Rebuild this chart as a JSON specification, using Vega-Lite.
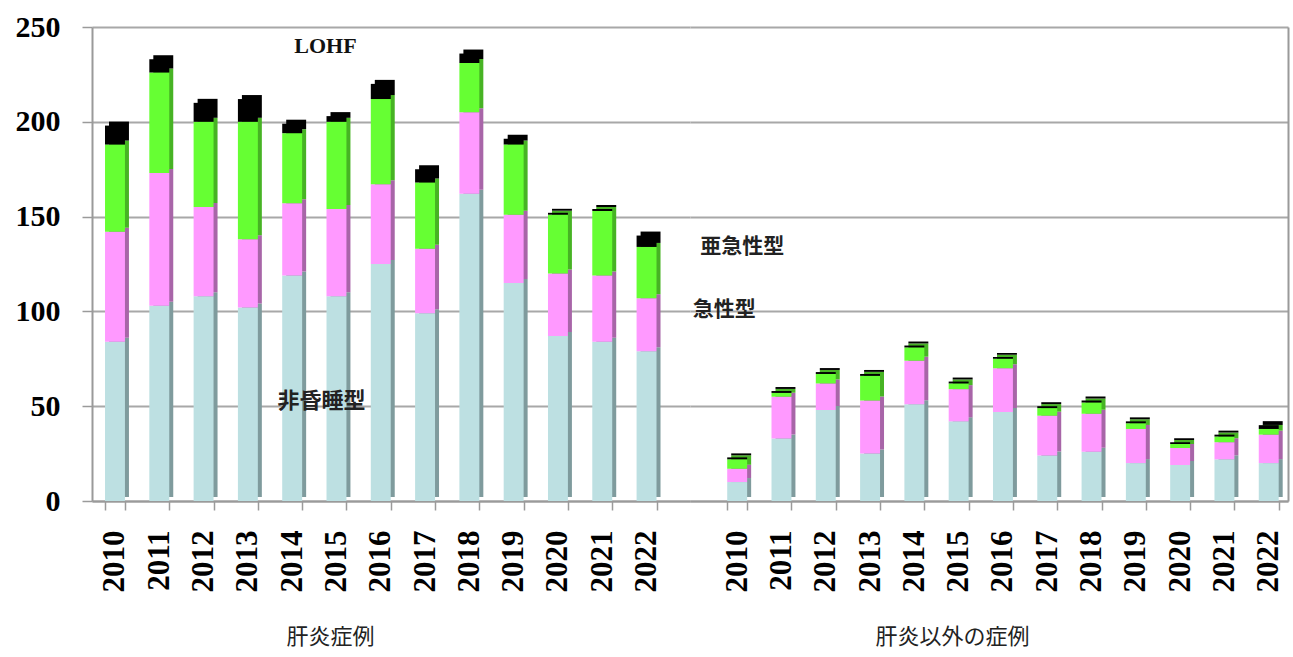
{
  "$schema": "https://vega.github.io/schema/vega-lite/v6.json",
  "background": "white",
  "padding": {"left": 15, "top": 12, "right": 4, "bottom": 22},
  "autosize": {"type": "pad"},
  "spacing": 0,
  "bounds": "flush",
  "config": {"view": {"stroke": null}},
  "datasets": {
    "bars": [
      {"g":"A","year":"2010","t":"非昏睡型","o":1,"v":84},{"g":"A","year":"2010","t":"急性型","o":2,"v":58},{"g":"A","year":"2010","t":"亜急性型","o":3,"v":46},{"g":"A","year":"2010","t":"LOHF","o":4,"v":10},
      {"g":"A","year":"2011","t":"非昏睡型","o":1,"v":103},{"g":"A","year":"2011","t":"急性型","o":2,"v":70},{"g":"A","year":"2011","t":"亜急性型","o":3,"v":53},{"g":"A","year":"2011","t":"LOHF","o":4,"v":7},
      {"g":"A","year":"2012","t":"非昏睡型","o":1,"v":108},{"g":"A","year":"2012","t":"急性型","o":2,"v":47},{"g":"A","year":"2012","t":"亜急性型","o":3,"v":45},{"g":"A","year":"2012","t":"LOHF","o":4,"v":10},
      {"g":"A","year":"2013","t":"非昏睡型","o":1,"v":102},{"g":"A","year":"2013","t":"急性型","o":2,"v":36},{"g":"A","year":"2013","t":"亜急性型","o":3,"v":62},{"g":"A","year":"2013","t":"LOHF","o":4,"v":12},
      {"g":"A","year":"2014","t":"非昏睡型","o":1,"v":119},{"g":"A","year":"2014","t":"急性型","o":2,"v":38},{"g":"A","year":"2014","t":"亜急性型","o":3,"v":37},{"g":"A","year":"2014","t":"LOHF","o":4,"v":5},
      {"g":"A","year":"2015","t":"非昏睡型","o":1,"v":108},{"g":"A","year":"2015","t":"急性型","o":2,"v":46},{"g":"A","year":"2015","t":"亜急性型","o":3,"v":46},{"g":"A","year":"2015","t":"LOHF","o":4,"v":3},
      {"g":"A","year":"2016","t":"非昏睡型","o":1,"v":125},{"g":"A","year":"2016","t":"急性型","o":2,"v":42},{"g":"A","year":"2016","t":"亜急性型","o":3,"v":45},{"g":"A","year":"2016","t":"LOHF","o":4,"v":8},
      {"g":"A","year":"2017","t":"非昏睡型","o":1,"v":99},{"g":"A","year":"2017","t":"急性型","o":2,"v":34},{"g":"A","year":"2017","t":"亜急性型","o":3,"v":35},{"g":"A","year":"2017","t":"LOHF","o":4,"v":7},
      {"g":"A","year":"2018","t":"非昏睡型","o":1,"v":162},{"g":"A","year":"2018","t":"急性型","o":2,"v":43},{"g":"A","year":"2018","t":"亜急性型","o":3,"v":26},{"g":"A","year":"2018","t":"LOHF","o":4,"v":5},
      {"g":"A","year":"2019","t":"非昏睡型","o":1,"v":115},{"g":"A","year":"2019","t":"急性型","o":2,"v":36},{"g":"A","year":"2019","t":"亜急性型","o":3,"v":37},{"g":"A","year":"2019","t":"LOHF","o":4,"v":3},
      {"g":"A","year":"2020","t":"非昏睡型","o":1,"v":87},{"g":"A","year":"2020","t":"急性型","o":2,"v":33},{"g":"A","year":"2020","t":"亜急性型","o":3,"v":31},{"g":"A","year":"2020","t":"LOHF","o":4,"v":1},
      {"g":"A","year":"2021","t":"非昏睡型","o":1,"v":84},{"g":"A","year":"2021","t":"急性型","o":2,"v":35},{"g":"A","year":"2021","t":"亜急性型","o":3,"v":34},{"g":"A","year":"2021","t":"LOHF","o":4,"v":1},
      {"g":"A","year":"2022","t":"非昏睡型","o":1,"v":79},{"g":"A","year":"2022","t":"急性型","o":2,"v":28},{"g":"A","year":"2022","t":"亜急性型","o":3,"v":27},{"g":"A","year":"2022","t":"LOHF","o":4,"v":6},
      {"g":"B","year":"2010","t":"非昏睡型","o":1,"v":10},{"g":"B","year":"2010","t":"急性型","o":2,"v":7},{"g":"B","year":"2010","t":"亜急性型","o":3,"v":5},{"g":"B","year":"2010","t":"LOHF","o":4,"v":1},
      {"g":"B","year":"2011","t":"非昏睡型","o":1,"v":33},{"g":"B","year":"2011","t":"急性型","o":2,"v":22},{"g":"B","year":"2011","t":"亜急性型","o":3,"v":2},{"g":"B","year":"2011","t":"LOHF","o":4,"v":1},
      {"g":"B","year":"2012","t":"非昏睡型","o":1,"v":48},{"g":"B","year":"2012","t":"急性型","o":2,"v":14},{"g":"B","year":"2012","t":"亜急性型","o":3,"v":5},{"g":"B","year":"2012","t":"LOHF","o":4,"v":1},
      {"g":"B","year":"2013","t":"非昏睡型","o":1,"v":25},{"g":"B","year":"2013","t":"急性型","o":2,"v":28},{"g":"B","year":"2013","t":"亜急性型","o":3,"v":13},{"g":"B","year":"2013","t":"LOHF","o":4,"v":1},
      {"g":"B","year":"2014","t":"非昏睡型","o":1,"v":51},{"g":"B","year":"2014","t":"急性型","o":2,"v":23},{"g":"B","year":"2014","t":"亜急性型","o":3,"v":7},{"g":"B","year":"2014","t":"LOHF","o":4,"v":1},
      {"g":"B","year":"2015","t":"非昏睡型","o":1,"v":42},{"g":"B","year":"2015","t":"急性型","o":2,"v":17},{"g":"B","year":"2015","t":"亜急性型","o":3,"v":3},{"g":"B","year":"2015","t":"LOHF","o":4,"v":1},
      {"g":"B","year":"2016","t":"非昏睡型","o":1,"v":47},{"g":"B","year":"2016","t":"急性型","o":2,"v":23},{"g":"B","year":"2016","t":"亜急性型","o":3,"v":5},{"g":"B","year":"2016","t":"LOHF","o":4,"v":1},
      {"g":"B","year":"2017","t":"非昏睡型","o":1,"v":24},{"g":"B","year":"2017","t":"急性型","o":2,"v":21},{"g":"B","year":"2017","t":"亜急性型","o":3,"v":4},{"g":"B","year":"2017","t":"LOHF","o":4,"v":1},
      {"g":"B","year":"2018","t":"非昏睡型","o":1,"v":26},{"g":"B","year":"2018","t":"急性型","o":2,"v":20},{"g":"B","year":"2018","t":"亜急性型","o":3,"v":6},{"g":"B","year":"2018","t":"LOHF","o":4,"v":1},
      {"g":"B","year":"2019","t":"非昏睡型","o":1,"v":20},{"g":"B","year":"2019","t":"急性型","o":2,"v":18},{"g":"B","year":"2019","t":"亜急性型","o":3,"v":3},{"g":"B","year":"2019","t":"LOHF","o":4,"v":1},
      {"g":"B","year":"2020","t":"非昏睡型","o":1,"v":19},{"g":"B","year":"2020","t":"急性型","o":2,"v":9},{"g":"B","year":"2020","t":"亜急性型","o":3,"v":2},{"g":"B","year":"2020","t":"LOHF","o":4,"v":1},
      {"g":"B","year":"2021","t":"非昏睡型","o":1,"v":22},{"g":"B","year":"2021","t":"急性型","o":2,"v":9},{"g":"B","year":"2021","t":"亜急性型","o":3,"v":3},{"g":"B","year":"2021","t":"LOHF","o":4,"v":1},
      {"g":"B","year":"2022","t":"非昏睡型","o":1,"v":20},{"g":"B","year":"2022","t":"急性型","o":2,"v":15},{"g":"B","year":"2022","t":"亜急性型","o":3,"v":3},{"g":"B","year":"2022","t":"LOHF","o":4,"v":2}
    ],
    "labels": [
      {"g":"A","year":"2015","v":240,"txt":"LOHF","f":"serif"},
      {"g":"A","year":"2015","v":53,"txt":"非昏睡型","f":"cjk"},
      {"g":"B","year":"2010","v":134,"txt":"亜急性型","f":"cjk"},
      {"g":"B","year":"2010","v":101,"txt":"急性型","f":"cjk"}
    ]
  },
  "hconcat": [
    {
      "width": 598,
      "height": 474,
      "encoding": {
        "x": {
          "field": "year", "type": "ordinal",
          "scale": {"paddingInner": 0.55, "paddingOuter": 0.525, "align": 0.28},
          "axis": {
            "labelAngle": 270, "labelFont": "Liberation Serif", "labelFontWeight": "bold", "labelFontSize": 31,
            "labelColor": "black", "labelPadding": 20, "tickBand": "extent", "tickSize": 9,
            "tickColor": "#9a9a9a", "tickWidth": 1.5, "domainColor": "#9a9a9a", "domainWidth": 2,
            "title": "肝炎症例", "titleFont": "Noto Sans CJK JP", "titleFontSize": 22, "titleFontWeight": "normal",
            "titleColor": "#222222", "titlePadding": 34, "titleX": 238, "titleAlign": "center"
          }
        },
        "y": {
          "field": "v", "type": "quantitative",
          "scale": {"domain": [0, 250]},
          "axis": {
            "orient": "left", "values": [0, 50, 100, 150, 200, 250], "labelFont": "Liberation Serif",
            "labelFontWeight": "bold", "labelFontSize": 30, "labelColor": "black", "labelPadding": 22,
            "tickSize": 10, "tickColor": "#9a9a9a", "tickWidth": 1.5, "domainColor": "#9a9a9a", "domainWidth": 2,
            "gridColor": "#a8a8a8", "gridWidth": 2, "title": null
          }
        }
      },
      "layer": [
        {
          "data": {"name": "bars"},
          "transform": [{"filter": "datum.g == 'A'"}],
          "mark": {"type": "bar", "xOffset": 4, "yOffset": -4, "y2Offset": -4},
          "encoding": {
            "color": {"field": "t", "type": "nominal", "legend": null,
              "scale": {"domain": ["非昏睡型", "急性型", "亜急性型", "LOHF"], "range": ["#7f9b9d", "#a865a8", "#47b324", "#000000"]}},
            "order": {"field": "o", "type": "quantitative"}
          }
        },
        {
          "data": {"name": "bars"},
          "transform": [{"filter": "datum.g == 'A'"}],
          "mark": {"type": "bar"},
          "encoding": {
            "color": {"field": "t", "type": "nominal", "legend": null,
              "scale": {"domain": ["非昏睡型", "急性型", "亜急性型", "LOHF"], "range": ["#bde0e2", "#ff99ff", "#66ff33", "#000000"]}},
            "order": {"field": "o", "type": "quantitative"}
          }
        },
        {
          "data": {"name": "labels"},
          "transform": [{"filter": "datum.g == 'A' && datum.f == 'serif'"}],
          "mark": {"type": "text", "font": "Liberation Serif", "fontWeight": "bold", "fontSize": 22, "dx": -11, "color": "#111111", "baseline": "middle"},
          "encoding": {"text": {"field": "txt"}}
        },
        {
          "data": {"name": "labels"},
          "transform": [{"filter": "datum.g == 'A' && datum.f == 'cjk'"}],
          "mark": {"type": "text", "font": "Noto Sans CJK JP", "fontWeight": "bold", "fontSize": 22, "dx": -15, "color": "#222222", "baseline": "middle"},
          "encoding": {"text": {"field": "txt"}}
        }
      ],
      "resolve": {"scale": {"color": "independent"}}
    },
    {
      "width": 598,
      "height": 474,
      "encoding": {
        "x": {
          "field": "year", "type": "ordinal",
          "scale": {"paddingInner": 0.55, "paddingOuter": 0.525, "align": 0.8},
          "axis": {
            "labelAngle": 270, "labelFont": "Liberation Serif", "labelFontWeight": "bold", "labelFontSize": 31,
            "labelColor": "black", "labelPadding": 20, "tickBand": "extent", "tickSize": 9,
            "tickColor": "#9a9a9a", "tickWidth": 1.5, "domainColor": "#9a9a9a", "domainWidth": 2,
            "title": "肝炎以外の症例", "titleFont": "Noto Sans CJK JP", "titleFontSize": 22, "titleFontWeight": "normal",
            "titleColor": "#222222", "titlePadding": 34, "titleX": 262, "titleAlign": "center"
          }
        },
        "y": {
          "field": "v", "type": "quantitative",
          "scale": {"domain": [0, 250]},
          "axis": {
            "orient": "right", "values": [0, 50, 100, 150, 200, 250], "labels": false, "ticks": false,
            "domainColor": "#9a9a9a", "domainWidth": 2, "gridColor": "#a8a8a8", "gridWidth": 2, "title": null
          }
        }
      },
      "layer": [
        {
          "data": {"name": "bars"},
          "transform": [{"filter": "datum.g == 'B'"}],
          "mark": {"type": "bar", "xOffset": 4, "yOffset": -4, "y2Offset": -4},
          "encoding": {
            "color": {"field": "t", "type": "nominal", "legend": null,
              "scale": {"domain": ["非昏睡型", "急性型", "亜急性型", "LOHF"], "range": ["#7f9b9d", "#a865a8", "#47b324", "#000000"]}},
            "order": {"field": "o", "type": "quantitative"}
          }
        },
        {
          "data": {"name": "bars"},
          "transform": [{"filter": "datum.g == 'B'"}],
          "mark": {"type": "bar"},
          "encoding": {
            "color": {"field": "t", "type": "nominal", "legend": null,
              "scale": {"domain": ["非昏睡型", "急性型", "亜急性型", "LOHF"], "range": ["#bde0e2", "#ff99ff", "#66ff33", "#000000"]}},
            "order": {"field": "o", "type": "quantitative"}
          }
        },
        {
          "data": {"name": "labels"},
          "transform": [{"filter": "datum.g == 'B' && datum.txt == '亜急性型'"}],
          "mark": {"type": "text", "font": "Noto Sans CJK JP", "fontWeight": "bold", "fontSize": 21, "dx": 5, "color": "#222222", "baseline": "middle"},
          "encoding": {"text": {"field": "txt"}}
        },
        {
          "data": {"name": "labels"},
          "transform": [{"filter": "datum.g == 'B' && datum.txt == '急性型'"}],
          "mark": {"type": "text", "font": "Noto Sans CJK JP", "fontWeight": "bold", "fontSize": 21, "dx": -13, "color": "#222222", "baseline": "middle"},
          "encoding": {"text": {"field": "txt"}}
        }
      ],
      "resolve": {"scale": {"color": "independent"}}
    }
  ]
}
